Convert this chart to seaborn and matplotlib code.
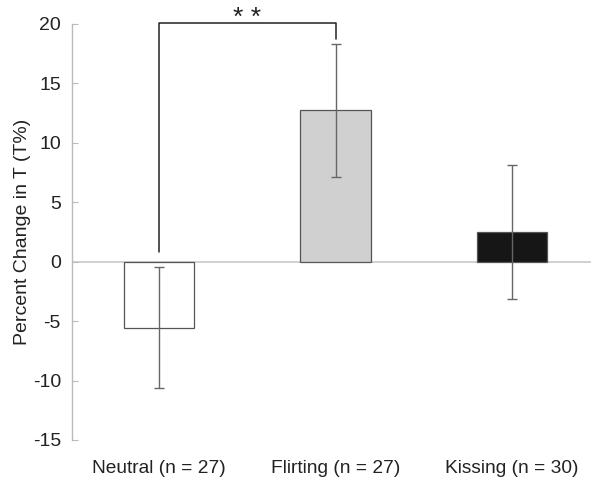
import matplotlib
matplotlib.use("Agg")
import matplotlib.pyplot as plt
import seaborn as sns
import pandas as pd

categories = ["Neutral (n = 27)", "Flirting (n = 27)", "Kissing (n = 30)"]
means = [-5.55, 12.75, 2.5]
errors = [5.1, 5.6, 5.65]
colors = ["#ffffff", "#d0d0d0", "#161616"]
yticks = [-15, -10, -5, 0, 5, 10, 15, 20]

sns.set_style("white")
plt.rcParams["font.family"] = ["Liberation Sans", "DejaVu Sans"]

df = pd.DataFrame({"cond": categories, "val": means})

fig = plt.figure(figsize=(5.91, 4.79), dpi=100)
ax = fig.add_axes([72/591, 39/479, 1 - 72/591, (440-24)/479])

sns.barplot(data=df, x="cond", y="val", hue="cond", palette=colors, legend=False,
            errorbar=None, width=0.4, edgecolor="#555555", linewidth=0.9, ax=ax)
ax.errorbar(range(len(categories)), means, yerr=errors, fmt="none",
            ecolor="#666666", elinewidth=1.0, capsize=3.3, capthick=1.0, zorder=3)

ax.axhline(0, color="#c8c8c8", lw=1.2, zorder=0)

ax.set_ylim(-15, 20)
ax.set_xlim(-0.493, 2.447)
ax.set_yticks(yticks)
ax.set_yticklabels([str(t) for t in yticks])
ax.set_xlabel("")
ax.set_ylabel("Percent Change in T (T%)", fontsize=14, color="#222222", labelpad=1)

for s in ["top", "right", "bottom"]:
    ax.spines[s].set_visible(False)
ax.spines["left"].set_color("#bbbbbb")
ax.spines["left"].set_linewidth(1.0)
ax.tick_params(axis="y", left=True, direction="in", length=4, color="#bbbbbb",
               labelsize=14, labelcolor="#222222", pad=8)
ax.tick_params(axis="x", bottom=False, labelsize=13.8, labelcolor="#222222", pad=11)

# significance bracket
ax.plot([0, 0, 1, 1], [0.8, 20.1, 20.1, 18.75], color="#222222", lw=1.1,
        clip_on=False, zorder=4)
ax.text(0.5, 19.95, "* *", ha="center", va="baseline", fontsize=19, color="#222222",
        clip_on=False)

fig.savefig("out.png", dpi=100)
